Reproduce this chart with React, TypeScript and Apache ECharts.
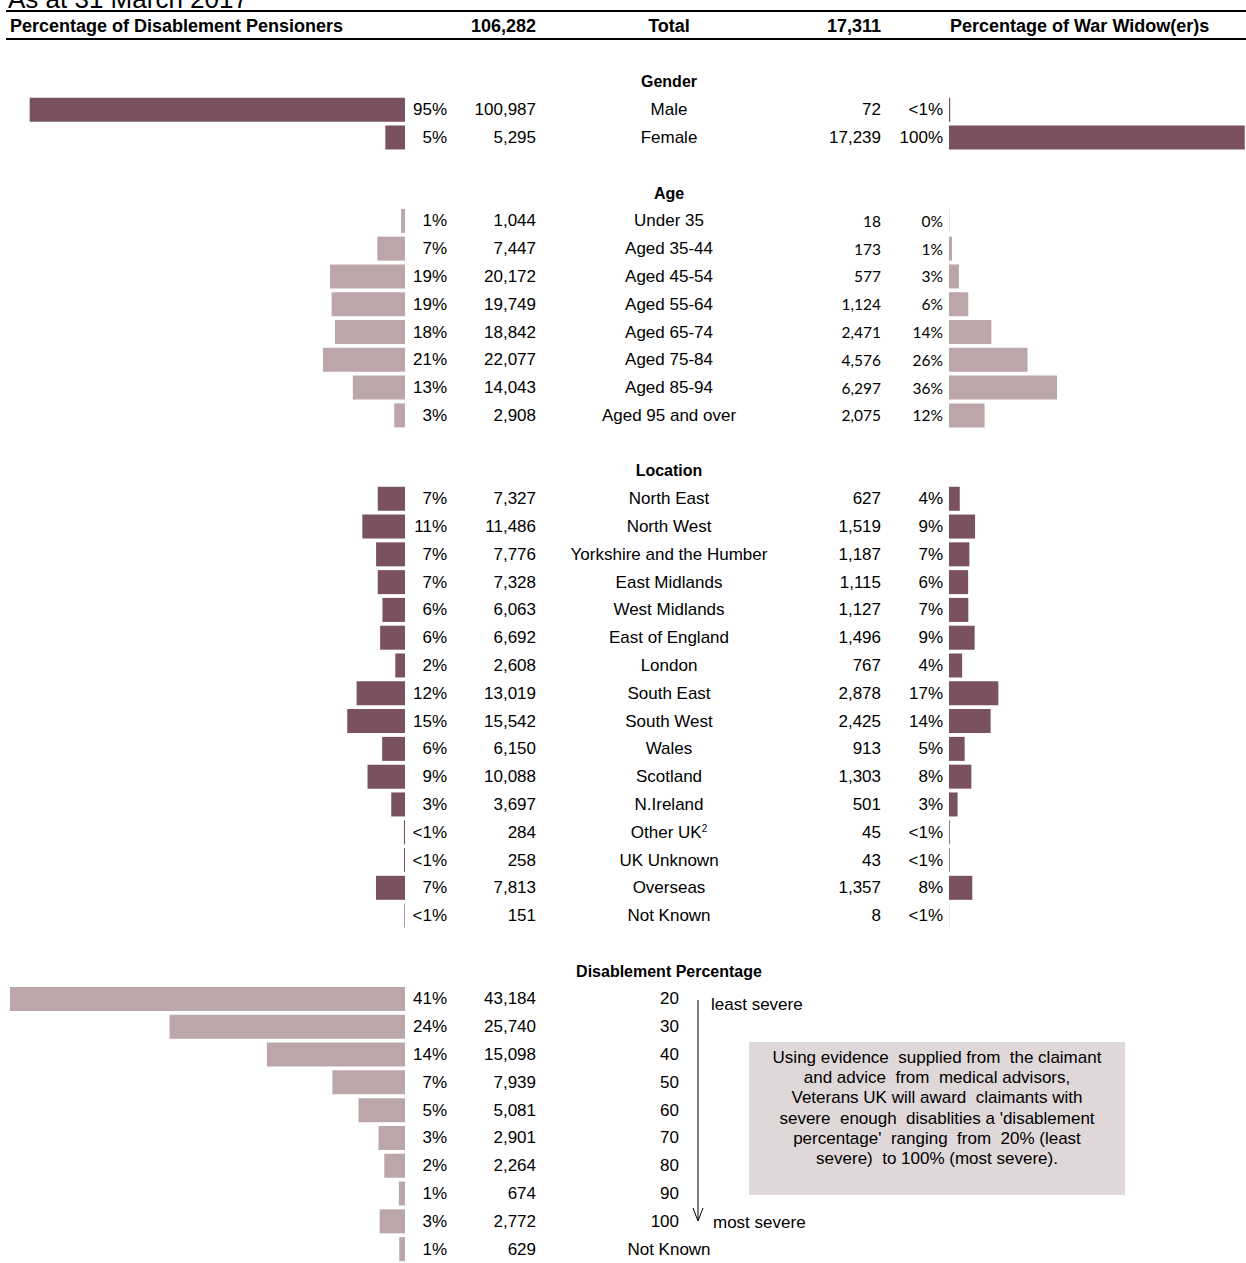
import React, { useEffect, useRef } from 'react';
import * as echarts from 'echarts';

// ---------- DATA ----------
const titleText = 'As at 31 March 2017';
const headerLeft = 'Percentage of Disablement Pensioners';
const headerRight = 'Percentage of War Widow(er)s';
const headerMid = 'Total';
const dpTotal = 106282;
const wwTotal = 17311;

const genderTitle = 'Gender';
const genderCats = ['Male', 'Female'];
const genderDP = [100987, 5295];
const genderDPPct = ['95%', '5%'];
const genderWW = [72, 17239];
const genderWWPct = ['<1%', '100%'];

const ageTitle = 'Age';
const ageCats = ['Under 35', 'Aged 35-44', 'Aged 45-54', 'Aged 55-64', 'Aged 65-74', 'Aged 75-84', 'Aged 85-94', 'Aged 95 and over'];
const ageDP = [1044, 7447, 20172, 19749, 18842, 22077, 14043, 2908];
const ageDPPct = ['1%', '7%', '19%', '19%', '18%', '21%', '13%', '3%'];
const ageWW = [18, 173, 577, 1124, 2471, 4576, 6297, 2075];
const ageWWPct = ['0%', '1%', '3%', '6%', '14%', '26%', '36%', '12%'];

const locTitle = 'Location';
const locCats = ['North East', 'North West', 'Yorkshire and the Humber', 'East Midlands', 'West Midlands', 'East of England', 'London', 'South East', 'South West', 'Wales', 'Scotland', 'N.Ireland', 'Other UK{sup|2}', 'UK Unknown', 'Overseas', 'Not Known'];
const locDP = [7327, 11486, 7776, 7328, 6063, 6692, 2608, 13019, 15542, 6150, 10088, 3697, 284, 258, 7813, 151];
const locDPPct = ['7%', '11%', '7%', '7%', '6%', '6%', '2%', '12%', '15%', '6%', '9%', '3%', '<1%', '<1%', '7%', '<1%'];
const locWW = [627, 1519, 1187, 1115, 1127, 1496, 767, 2878, 2425, 913, 1303, 501, 45, 43, 1357, 8];
const locWWPct = ['4%', '9%', '7%', '6%', '7%', '9%', '4%', '17%', '14%', '5%', '8%', '3%', '<1%', '<1%', '8%', '<1%'];

const disTitle = 'Disablement Percentage';
const disCats = ['20', '30', '40', '50', '60', '70', '80', '90', '100', 'Not Known'];
const disDP = [43184, 25740, 15098, 7939, 5081, 2901, 2264, 674, 2772, 629];
const disDPPct = ['41%', '24%', '14%', '7%', '5%', '3%', '2%', '1%', '3%', '1%'];

const leastSevere = 'least severe';
const mostSevere = 'most severe';
const noteLines = [
  'Using evidence  supplied from  the claimant',
  'and advice  from  medical advisors,',
  'Veterans UK will award  claimants with',
  "severe  enough  disablities a 'disablement",
  "percentage'  ranging  from  20% (least",
  'severe)  to 100% (most severe).',
];

// ---------- STYLE ----------
const DARK = '#7A5160';
const LIGHT = '#BBA6AA';
const BOX = '#DFD7D8';
const FONT = '"Liberation Sans", Arial, sans-serif';
const FS = 17;

// ---------- BUILD ROWS ----------
const fmt = (n: number) => n.toLocaleString('en-US');
const labelCol: any[] = [];
const pctLCol: any[] = [];
const cntLCol: any[] = [];
const numCol: any[] = [];
const cntRCol: any[] = [];
const pctRCol: any[] = [];
const baseCol: string[] = [];
const bars: Record<string, (number | null)[]> = { gL: [], aL: [], lL: [], dL: [], gR: [], aR: [], lR: [] };

function pushRow(r: { label?: any; pctL?: any; cntL?: any; num?: any; cntR?: any; pctR?: any; bars?: Record<string, number> }) {
  const i = baseCol.length;
  baseCol.push(String(i));
  labelCol.push(r.label ?? '');
  pctLCol.push(r.pctL ?? '');
  cntLCol.push(r.cntL ?? '');
  numCol.push(r.num ?? '');
  cntRCol.push(r.cntR ?? '');
  pctRCol.push(r.pctR ?? '');
  Object.keys(bars).forEach((k) => bars[k].push(r.bars && r.bars[k] !== undefined ? r.bars[k] : null));
}
const titleItem = (t: string) => ({ value: t, textStyle: { fontWeight: 'bold', fontSize: 16, align: 'center' } });
const small = (t: string) => ({ value: t, textStyle: { fontFamily: 'Lato', fontSize: 15.5, align: 'right' } });

pushRow({ label: titleItem(genderTitle) });
genderCats.forEach((c, i) => pushRow({ label: c, pctL: genderDPPct[i], cntL: fmt(genderDP[i]), cntR: fmt(genderWW[i]), pctR: genderWWPct[i], bars: { gL: genderDP[i], gR: genderWW[i] } }));
pushRow({});
pushRow({ label: titleItem(ageTitle) });
ageCats.forEach((c, i) => pushRow({ label: c, pctL: ageDPPct[i], cntL: fmt(ageDP[i]), cntR: small(fmt(ageWW[i])), pctR: small(ageWWPct[i]), bars: { aL: ageDP[i], aR: ageWW[i] } }));
pushRow({});
pushRow({ label: titleItem(locTitle) });
locCats.forEach((c, i) => pushRow({ label: c, pctL: locDPPct[i], cntL: fmt(locDP[i]), cntR: fmt(locWW[i]), pctR: locWWPct[i], bars: { lL: locDP[i], lR: locWW[i] } }));
pushRow({});
pushRow({ label: titleItem(disTitle) });
disCats.forEach((c, i) => {
  const isNum = /^\d+$/.test(c);
  pushRow({ label: isNum ? '' : c, num: isNum ? c : '', pctL: disDPPct[i], cntL: fmt(disDP[i]), bars: { dL: disDP[i] } });
});

// ---------- OPTION ----------
const GRID_TOP = 68;
const GRID_H = 1202;
const LEFT_EDGE = 405;

const textAxis = (data: any[], margin: number, align: string) => ({
  type: 'category',
  gridIndex: 0,
  position: 'right',
  inverse: true,
  data,
  axisLine: { show: false },
  axisTick: { show: false },
  splitLine: { show: false },
  axisLabel: {
    show: true,
    interval: 0,
    margin,
    align,
    color: '#000',
    fontFamily: FONT,
    fontSize: FS,
    rich: { sup: { fontSize: 10, verticalAlign: 'top', fontFamily: FONT, color: '#000' } },
  },
});

const barBase = { type: 'bar', barWidth: 24, barGap: '-100%', silent: true };

const option: any = {
  animation: false,
  grid: [
    { left: 10, top: GRID_TOP, width: LEFT_EDGE - 10, height: GRID_H },
    { left: 949, top: GRID_TOP, width: 311, height: GRID_H },
  ],
  xAxis: [
    { type: 'value', gridIndex: 0, min: 0, max: dpTotal, inverse: true, show: false },
    { type: 'value', gridIndex: 0, min: 0, max: Math.max(...disDP), inverse: true, show: false, position: 'top' },
    { type: 'value', gridIndex: 1, min: 0, max: wwTotal, show: false },
  ],
  yAxis: [
    { type: 'category', gridIndex: 0, inverse: true, data: baseCol, show: false, position: 'right' },
    { type: 'category', gridIndex: 1, inverse: true, data: baseCol, show: false, position: 'left' },
    textAxis(pctLCol, 447 - LEFT_EDGE, 'right'),
    textAxis(cntLCol, 536 - LEFT_EDGE, 'right'),
    textAxis(labelCol, 669 - LEFT_EDGE, 'center'),
    textAxis(numCol, 679 - LEFT_EDGE, 'right'),
    textAxis(cntRCol, 881 - LEFT_EDGE, 'right'),
    textAxis(pctRCol, 943 - LEFT_EDGE, 'right'),
  ],
  series: [
    { ...barBase, name: 'gL', xAxisIndex: 0, yAxisIndex: 0, data: bars.gL, itemStyle: { color: DARK } },
    { ...barBase, name: 'aL', xAxisIndex: 0, yAxisIndex: 0, data: bars.aL, itemStyle: { color: LIGHT } },
    { ...barBase, name: 'lL', xAxisIndex: 0, yAxisIndex: 0, data: bars.lL, itemStyle: { color: DARK } },
    { ...barBase, name: 'dL', xAxisIndex: 1, yAxisIndex: 0, data: bars.dL, itemStyle: { color: LIGHT } },
    { ...barBase, name: 'gR', xAxisIndex: 2, yAxisIndex: 1, data: bars.gR, itemStyle: { color: DARK } },
    { ...barBase, name: 'aR', xAxisIndex: 2, yAxisIndex: 1, data: bars.aR, itemStyle: { color: LIGHT } },
    { ...barBase, name: 'lR', xAxisIndex: 2, yAxisIndex: 1, data: bars.lR, itemStyle: { color: DARK } },
  ],
  graphic: [
    { type: 'text', x: 8, y: -1, style: { text: titleText, fill: '#000', font: `26px ${FONT}`, verticalAlign: 'middle' } },
    { type: 'line', shape: { x1: 6, y1: 11, x2: 1246, y2: 11 }, style: { stroke: '#000', lineWidth: 2 } },
    { type: 'line', shape: { x1: 6, y1: 39, x2: 1246, y2: 39 }, style: { stroke: '#000', lineWidth: 2 } },
    { type: 'text', x: 10, y: 26, style: { text: headerLeft, fill: '#000', font: `bold 18px ${FONT}`, align: 'left', verticalAlign: 'middle' } },
    { type: 'text', x: 536, y: 26, style: { text: fmt(dpTotal), fill: '#000', font: `bold 18px ${FONT}`, align: 'right', verticalAlign: 'middle' } },
    { type: 'text', x: 669, y: 26, style: { text: headerMid, fill: '#000', font: `bold 18px ${FONT}`, align: 'center', verticalAlign: 'middle' } },
    { type: 'text', x: 881, y: 26, style: { text: fmt(wwTotal), fill: '#000', font: `bold 18px ${FONT}`, align: 'right', verticalAlign: 'middle' } },
    { type: 'text', x: 950, y: 26, style: { text: headerRight, fill: '#000', font: `bold 18px ${FONT}`, align: 'left', verticalAlign: 'middle' } },
    // severity arrow
    { type: 'line', shape: { x1: 698, y1: 1000, x2: 698, y2: 1220 }, style: { stroke: '#000', lineWidth: 1 } },
    { type: 'polyline', shape: { points: [[693, 1208], [698, 1221], [703, 1208]] }, style: { stroke: '#000', lineWidth: 1, fill: null } },
    { type: 'text', x: 711, y: 1004, style: { text: leastSevere, fill: '#000', font: `${FS}px ${FONT}`, align: 'left', verticalAlign: 'middle' } },
    { type: 'text', x: 713, y: 1222, style: { text: mostSevere, fill: '#000', font: `${FS}px ${FONT}`, align: 'left', verticalAlign: 'middle' } },
    // note box
    { type: 'rect', z: 1, shape: { x: 749, y: 1042, width: 376, height: 153 }, style: { fill: BOX } },
    { type: 'text', z: 2, x: 937, y: 1047, style: { text: noteLines.join('\n'), fill: '#000', font: `${FS}px ${FONT}`, fontSize: FS, fontFamily: FONT, lineHeight: 20.3, align: 'center', verticalAlign: 'top' } },
  ],
};

export default function App() {
  const ref = useRef<HTMLDivElement>(null);
  useEffect(() => {
    const chart = echarts.init(ref.current as HTMLDivElement, null, { renderer: 'svg' });
    chart.setOption(option);
    return () => chart.dispose();
  }, []);
  return <div ref={ref} style={{ position: 'absolute', left: 0, top: 0, width: 1246, height: 1263 }} />;
}
